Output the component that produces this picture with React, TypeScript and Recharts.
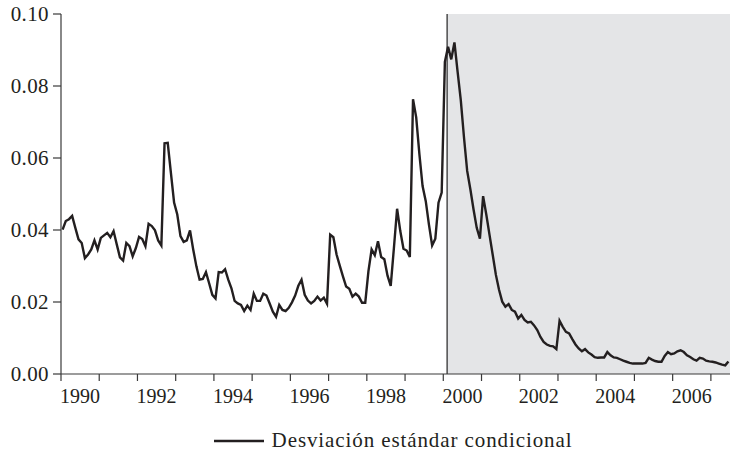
import {
  Legend,
  Line,
  LineChart,
  ReferenceArea,
  ReferenceLine,
  XAxis,
  YAxis,
} from 'recharts'

// Monthly conditional standard deviation, Jan 1990 onwards.
const START_YEAR = 1990
const CONDITIONAL_SD = [
  0.0401, 0.0425, 0.043, 0.0439, 0.0406, 0.0374, 0.0364, 0.0322, 0.0332, 0.0346, 0.0371, 0.0346,
  0.0378, 0.0385, 0.0392, 0.038, 0.0397, 0.036, 0.0324, 0.0315, 0.0364, 0.0355, 0.0327, 0.035,
  0.0381, 0.0375, 0.0355, 0.0417, 0.0411, 0.0399, 0.0371, 0.0357, 0.0641, 0.0642, 0.0559, 0.0476,
  0.0443, 0.0383, 0.0367, 0.0371, 0.0399, 0.0346, 0.0299, 0.0262, 0.0264, 0.0283, 0.0252, 0.022,
  0.021, 0.0283, 0.0282, 0.0291, 0.0262, 0.0238, 0.0203, 0.0196, 0.0192, 0.0175, 0.019, 0.0178,
  0.0223, 0.0203, 0.0203, 0.0223, 0.0218, 0.0196, 0.0173, 0.0159, 0.0192, 0.0178, 0.0175, 0.0184,
  0.0199, 0.0218, 0.0245, 0.0262, 0.022, 0.0204, 0.0196, 0.0203, 0.0215, 0.0204, 0.0212, 0.0195,
  0.0387, 0.038, 0.0332, 0.0301, 0.0271, 0.0243, 0.0237, 0.0215, 0.0223, 0.0215, 0.0198, 0.0198,
  0.0285, 0.0346, 0.033, 0.0369, 0.0325, 0.0319, 0.0273, 0.0245, 0.035, 0.0459, 0.0397, 0.0348,
  0.0343, 0.0325, 0.0763, 0.0713, 0.0611, 0.0522, 0.048, 0.0415, 0.0357, 0.0376, 0.0476, 0.0504,
  0.0867, 0.0909, 0.0874, 0.0921, 0.0839, 0.076, 0.0657, 0.0564, 0.0513, 0.0457, 0.0406, 0.0376,
  0.0494, 0.0443, 0.0387, 0.0332, 0.0276, 0.0234, 0.0201, 0.0187, 0.0194, 0.0178, 0.0173, 0.0154,
  0.0164, 0.015, 0.0143, 0.0145, 0.0135, 0.0122, 0.0103, 0.0089, 0.0082, 0.0078, 0.0077, 0.0069,
  0.0148, 0.0131, 0.0117, 0.0113, 0.0097, 0.0082, 0.0071, 0.0063, 0.0069, 0.006, 0.0054, 0.0047,
  0.0045, 0.0046, 0.0046, 0.0061, 0.0052, 0.0046, 0.0045, 0.0041, 0.0037, 0.0034, 0.0031, 0.0029,
  0.0029, 0.0029, 0.0029, 0.0031, 0.0045, 0.004, 0.0036, 0.0034, 0.0034, 0.005, 0.0061, 0.0055,
  0.0057, 0.0063, 0.0066, 0.0061, 0.0052, 0.0047, 0.0041, 0.0037, 0.0045, 0.0043, 0.0037, 0.0035,
  0.0034, 0.0032, 0.0029, 0.0026, 0.0024, 0.0035,
]

const YEAR_TICKS = [
  1990, 1991, 1992, 1993, 1994, 1995, 1996, 1997, 1998, 1999, 2000, 2001, 2002, 2003, 2004, 2005,
  2006, 2007,
]
const LABEL_YEARS = [1990, 1992, 1994, 1996, 1998, 2000, 2002, 2004, 2006]
const Y_TICKS = [0, 0.02, 0.04, 0.06, 0.08, 0.1]
const X_DOMAIN = [1990, 2007.5]
const SHADE_START = 2000.1
const SERIES_NAME = 'Desviación estándar condicional'

const INK = '#231f20'
const AXIS = '#3a3a3a'
const SHADE = '#e4e5e7'
const FONT = '"Liberation Serif", "DejaVu Serif", serif'

const data = CONDITIONAL_SD.map((sd, i) => ({
  year: START_YEAR + (i + 0.5) / 12,
  sd,
}))

// year labels are centred inside each year, between the boundary ticks
const LABEL_TICKS = LABEL_YEARS.map((y) => y + 0.5)

function LegendRow() {
  return (
    <div
      style={{
        display: 'flex',
        justifyContent: 'center',
        alignItems: 'center',
        fontFamily: FONT,
        fontSize: 21,
        letterSpacing: 0.9,
        color: INK,
        paddingLeft: 56,
        paddingTop: 12,
      }}
    >
      <svg width={58} height={10}>
        <line x1={0} y1={5} x2={50} y2={5} stroke={INK} strokeWidth={2.4} />
      </svg>
      <span>{SERIES_NAME}</span>
    </div>
  )
}

export default function App() {
  return (
    <div style={{ position: 'absolute', left: 0, top: 0, background: '#fff', fontFamily: FONT }}>
      <LineChart
        width={730}
        height={460}
        data={data}
        margin={{ top: 14, right: 0, bottom: 0, left: 0 }}
        style={{ fontFamily: FONT }}
      >
        <ReferenceArea
          xAxisId="a"
          x1={SHADE_START}
          x2={X_DOMAIN[1]}
          y1={0}
          y2={0.1}
          fill={SHADE}
          fillOpacity={1}
          stroke="none"
        />
        <ReferenceLine xAxisId="a" x={SHADE_START} stroke="#333" strokeWidth={1.3} />
        <XAxis
          xAxisId="b"
          type="number"
          dataKey="year"
          domain={X_DOMAIN}
          ticks={LABEL_TICKS}
          interval={0}
          tickFormatter={(v: number) => String(Math.floor(v))}
          axisLine={false}
          tickLine={false}
          height={35}
          tick={{ fill: INK, fontSize: 20, fontFamily: FONT }}
          allowDataOverflow
        />
        <XAxis
          xAxisId="a"
          type="number"
          dataKey="year"
          domain={X_DOMAIN}
          ticks={YEAR_TICKS}
          interval={0}
          tickFormatter={() => ''}
          tickSize={7}
          tickLine={{ stroke: AXIS, strokeWidth: 1.2 }}
          axisLine={{ stroke: AXIS, strokeWidth: 1.2 }}
          height={7}
          allowDataOverflow
        />
        <YAxis
          type="number"
          domain={[0, 0.1]}
          ticks={Y_TICKS}
          interval={0}
          tickFormatter={(v: number) => v.toFixed(2)}
          width={61}
          tickSize={8}
          tickMargin={4}
          tickLine={{ stroke: AXIS, strokeWidth: 1.2 }}
          axisLine={{ stroke: AXIS, strokeWidth: 1.2 }}
          tick={{ fill: INK, fontSize: 21, fontFamily: FONT, letterSpacing: 0.4 }}
        />
        <Legend verticalAlign="bottom" height={44} content={() => <LegendRow />} />
        <Line
          xAxisId="a"
          type="linear"
          dataKey="sd"
          name={SERIES_NAME}
          stroke={INK}
          strokeWidth={2.4}
          dot={false}
          isAnimationActive={false}
        />
      </LineChart>
    </div>
  )
}
